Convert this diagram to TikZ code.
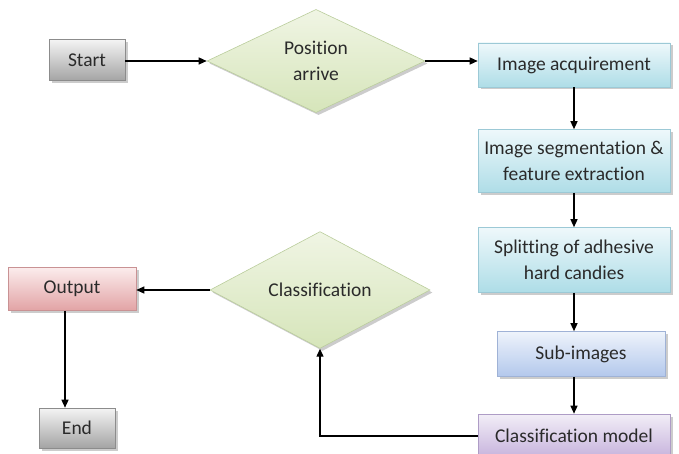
\documentclass[tikz,border=0pt]{standalone}
\usepackage{fontspec}
\setmainfont{Carlito}[Ligatures={NoCommon,NoContextual}]
\usetikzlibrary{shapes.geometric,arrows.meta,shadows}

\definecolor{ink}{HTML}{2A2A2A}
\definecolor{greyT}{HTML}{F4F4F4}\definecolor{greyB}{HTML}{A4A4A4}\definecolor{greyD}{HTML}{8C8C8C}
\definecolor{blueT}{HTML}{EEF8FB}\definecolor{blueB}{HTML}{AEDDE7}\definecolor{blueD}{HTML}{9CC9D6}
\definecolor{pinkT}{HTML}{FBECEC}\definecolor{pinkB}{HTML}{E2A3A5}\definecolor{pinkD}{HTML}{C99294}
\definecolor{lavT}{HTML}{EEF3FB}\definecolor{lavB}{HTML}{B3C8EC}\definecolor{lavD}{HTML}{9FB2D6}
\definecolor{purT}{HTML}{F2EEF7}\definecolor{purB}{HTML}{C6B2DC}\definecolor{purD}{HTML}{AE9CC6}
\definecolor{grnT}{HTML}{F0F5E4}\definecolor{grnB}{HTML}{D6E5BA}\definecolor{grnD}{HTML}{BACD9C}

\tikzset{
  base/.style={draw, line width=0.6pt, align=center, text=ink, inner sep=0pt,
    font=\fontsize{19.5}{26}\selectfont,
    drop shadow={opacity=0.4, shadow xshift=2.5pt, shadow yshift=-2.5pt}},
  greybox/.style={base, draw=greyD, top color=greyT, bottom color=greyB},
  bluebox/.style={base, draw=blueD, top color=blueT, bottom color=blueB},
  pinkbox/.style={base, draw=pinkD, top color=pinkT, bottom color=pinkB},
  lavbox/.style={base, draw=lavD, top color=lavT, bottom color=lavB},
  purpbox/.style={base, draw=purD, top color=purT, bottom color=purB},
  decision/.style={base, diamond, draw=grnD, top color=grnT, bottom color=grnB},
  flow/.style={-{Triangle[length=8pt,width=7pt]}, line width=1.3pt, black},
}

\begin{document}
\begin{tikzpicture}[x=1pt,y=-1pt]
\useasboundingbox (0,0) rectangle (679,454);

% left column
\node[greybox, minimum width=76pt, minimum height=41pt] (start) at (87,60) {Start};
\node[pinkbox, minimum width=128pt, minimum height=43pt] (output) at (72,289) {Output};
\node[greybox, minimum width=76pt, minimum height=40pt] (end) at (77,428) {End};

% decisions
\node[decision, minimum width=218pt, minimum height=103pt] (pos) at (316,61) {Position\\arrive};
\node[decision, minimum width=220pt, minimum height=86pt] (cls) at (320,290) {Classification};

% processing column
\node[bluebox, minimum width=192pt, minimum height=44pt] (acq) at (574,65) {Image acquirement};
\node[bluebox, minimum width=192pt, minimum height=63pt] (seg) at (574,161) {Image segmentation \&\\feature extraction};
\node[bluebox, minimum width=192pt, minimum height=65pt] (split) at (574,260) {Splitting of adhesive\\hard candies};
\node[lavbox, minimum width=168pt, minimum height=45pt] (sub) at (581,354) {Sub-images};
\node[purpbox, minimum width=192pt, minimum height=44pt] (model) at (574,436) {Classification model};

% connectors
\draw[flow] (start.east |- pos.west) -- (pos.west);
\draw[flow] (pos.east) -- (pos.east -| acq.west);
\draw[flow] (acq.south) -- (seg.north);
\draw[flow] (seg.south) -- (split.north);
\draw[flow] (split.south) -- (split.south |- sub.north);
\draw[flow] (split.south |- sub.south) -- (model.north);
\draw[flow] (model.west) -| (cls.south);
\draw[flow] (cls.west) -- (cls.west -| output.east);
\coordinate (od) at ([xshift=-7pt]output.south);
\draw[flow] (od) -- (od |- end.north);
\end{tikzpicture}
\end{document}
